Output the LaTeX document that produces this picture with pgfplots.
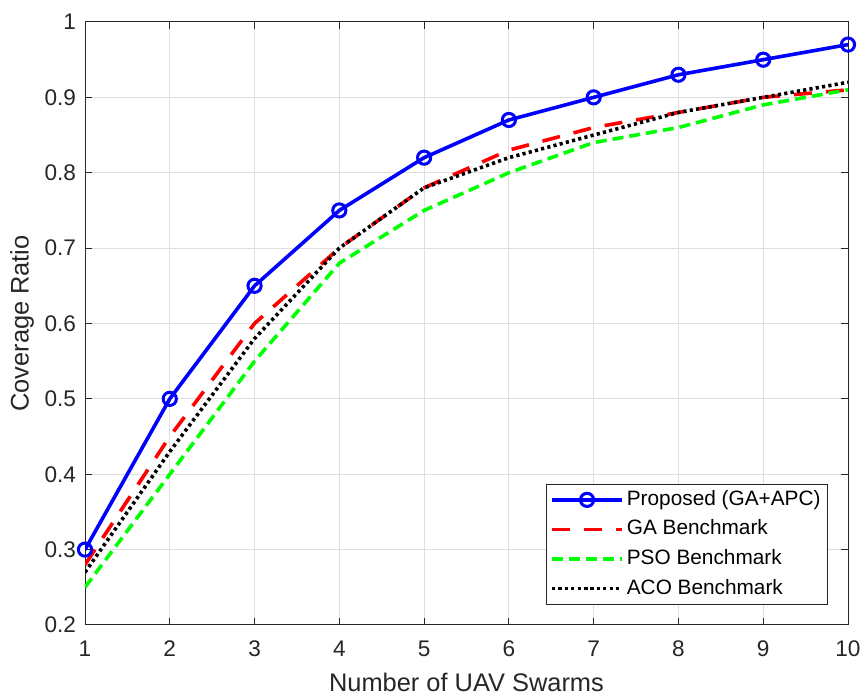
\documentclass[border=0pt]{standalone}
\usepackage{fontspec}
\setmainfont{Liberation Sans}
\usepackage{pgfplots}
\pgfplotsset{compat=1.18}
\definecolor{axgray}{rgb}{0.15,0.15,0.15}
\definecolor{gridgray}{rgb}{0.87,0.87,0.87}
\begin{document}
\begin{tikzpicture}
\begin{axis}[
  scale only axis, width=381.5pt, height=301.5pt,
  xmin=1, xmax=10, ymin=0.2, ymax=1,
  xtick={1,2,...,10}, ytick={0.2,0.3,...,1.0},
  /pgf/number format/assume math mode=true,
  ticklabel style={font=\fontsize{11.3}{13}\selectfont, text=axgray},
  xticklabel style={yshift=-4.5pt},
  yticklabel style={xshift=-1pt, /pgf/number format/.cd, fixed, precision=1},
  xlabel={Number of UAV Swarms}, ylabel={Coverage Ratio},
  label style={font=\fontsize{12.7}{14}\selectfont, text=axgray},
  xlabel style={at={(axis description cs:0.5,-0.111)}, anchor=base},
  ylabel style={at={(axis description cs:-0.0826,0.5)}, anchor=center},
  grid=major, major grid style={gridgray, line width=0.5pt},
  axis line style={axgray, line width=0.5pt},
  tick style={axgray, line width=0.5pt}, tick align=inside,
  major tick length=3.5pt,
  legend style={at={(rel axis cs:0.9738,0.0332)}, anchor=south east,
    font=\fontsize{10.4}{12}\selectfont, draw=axgray, line width=0.5pt,
    inner xsep=2pt, inner ysep=0.5pt, row sep=0pt,
    nodes={inner xsep=1.5pt, inner ysep=2.5pt, text height=7.6pt, text depth=2.2pt}},
  legend cell align=left,
  legend image code/.code={\draw[mark repeat=2,mark phase=2,#1]
    plot coordinates {(0pt,0pt)(17.5pt,0pt)(35pt,0pt)};},
]
\addplot[blue, line width=1.8pt, mark=o, mark size=3.3pt, mark options={solid, line width=1.5pt}]
  coordinates {(1,0.30)(2,0.50)(3,0.65)(4,0.75)(5,0.82)(6,0.87)(7,0.90)(8,0.93)(9,0.95)(10,0.97)};
\addlegendentry{Proposed (GA+APC)}
\addplot[red, line width=1.8pt, dash pattern=on 9pt off 7pt]
  coordinates {(1,0.28)(2,0.45)(3,0.60)(4,0.70)(5,0.78)(6,0.83)(7,0.86)(8,0.88)(9,0.90)(10,0.91)};
\addlegendentry{GA Benchmark}
\addplot[green, line width=1.8pt, dash pattern=on 5.5pt off 3pt]
  coordinates {(1,0.25)(2,0.40)(3,0.55)(4,0.68)(5,0.75)(6,0.80)(7,0.84)(8,0.86)(9,0.89)(10,0.91)};
\addlegendentry{PSO Benchmark}
\addplot[black, line width=1.8pt, dash pattern=on 1.6pt off 1.6pt]
  coordinates {(1,0.27)(2,0.43)(3,0.58)(4,0.70)(5,0.78)(6,0.82)(7,0.85)(8,0.88)(9,0.90)(10,0.92)};
\addlegendentry{ACO Benchmark}
\end{axis}
\pgfresetboundingbox
\path[use as bounding box] ([shift={(-42.5pt,-35pt)}]current axis.south west)
  rectangle ([shift={(7pt,11pt)}]current axis.north east);
\end{tikzpicture}
\end{document}
